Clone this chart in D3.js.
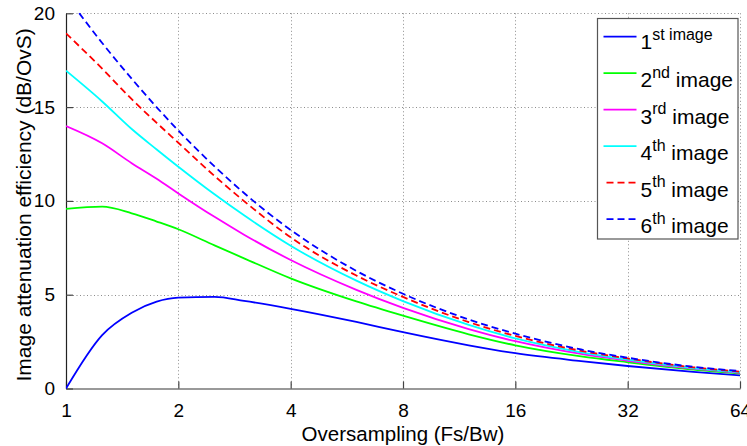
<!DOCTYPE html>
<html>
<head>
<meta charset="utf-8">
<script src="https://cdn.jsdelivr.net/npm/d3@7/dist/d3.min.js"></script>
<style>
  html, body { margin: 0; padding: 0; background: #fff; }
  svg { display: block; font-family: "Liberation Sans", Arial, Helvetica, sans-serif; }
</style>
</head>
<body>
<svg id="chart" width="747" height="446"></svg>
<script>
// Oversampling ratios (Fs/Bw) at which the efficiency was evaluated
const oversampling = [1, 1.25, 1.5, 1.75, 2, 2.5, 3, 4, 6, 8, 12, 16, 24, 32, 48, 64];

// Image attenuation efficiency (dB per oversampling octave) for each image
const image1 = [0, 2.85, 4.04, 4.63, 4.84, 4.88, 4.67, 4.25, 3.55, 3.0, 2.3, 1.88, 1.46, 1.2, 0.89, 0.7];
const image2 = [9.57, 9.69, 9.34, 8.9, 8.49, 7.63, 6.94, 5.87, 4.64, 3.88, 2.89, 2.3, 1.71, 1.4, 1.01, 0.8];
const image3 = [13.99, 13.07, 12.01, 11.18, 10.4, 9.15, 8.2, 6.85, 5.26, 4.3, 3.17, 2.52, 1.84, 1.48, 1.06, 0.84];
const image4 = [16.94, 15.3, 13.83, 12.74, 11.82, 10.35, 9.23, 7.61, 5.75, 4.66, 3.39, 2.67, 1.93, 1.54, 1.09, 0.87];
const image5 = [18.93, 17.05, 15.42, 14.16, 13.1, 11.33, 9.99, 8.06, 6.02, 4.88, 3.54, 2.8, 2.01, 1.6, 1.13, 0.9];
const image6 = [20.95, 18.42, 16.51, 14.99, 13.75, 11.84, 10.42, 8.45, 6.27, 5.05, 3.68, 2.92, 2.08, 1.64, 1.16, 0.93];

const xTicks = [1, 2, 4, 8, 16, 32, 64];
const yTicks = [0, 5, 10, 15, 20];

const seriesNames = [["1", "st image", ""], ["2", "nd", " image"], ["3", "rd", " image"],
                     ["4", "th", " image"], ["5", "th", " image"], ["6", "th", " image"]];
const seriesColors = ["#0000ff", "#00ff00", "#ff00ff", "#00ffff", "#ff0000", "#0000ff"];
const seriesDashed = [false, false, false, false, true, true];
const seriesValues = [image1, image2, image3, image4, image5, image6];

const svg = d3.select("#chart");
const plotLeft = 66, plotRight = 740, plotTop = 13.3, plotBottom = 388.5;

const x = d3.scaleLog().base(2).domain([1, 64]).range([plotLeft, plotRight]);
const y = d3.scaleLinear().domain([0, 20]).range([plotBottom, plotTop]);

// clip for the data lines
svg.append("defs").append("clipPath").attr("id", "plotClip")
  .append("rect").attr("x", plotLeft).attr("y", plotTop - 0.5)
  .attr("width", plotRight - plotLeft + 2).attr("height", plotBottom - plotTop + 1);

// dotted grid
const grid = svg.append("g").attr("stroke", "#8c8c8c").attr("stroke-width", 1)
  .attr("stroke-dasharray", "1,2.5").attr("fill", "none");
grid.selectAll("line.v").data(xTicks.slice(1)).join("line")
  .attr("x1", d => Math.round(x(d)) + 0.5).attr("x2", d => Math.round(x(d)) + 0.5)
  .attr("y1", plotTop).attr("y2", plotBottom);
grid.selectAll("line.h").data(yTicks.slice(1)).join("line")
  .attr("x1", plotLeft).attr("x2", plotRight)
  .attr("y1", d => Math.round(y(d)) + 0.5).attr("y2", d => Math.round(y(d)) + 0.5);

// x axis (bottom) with inward ticks
const xAxis = d3.axisBottom(x).tickValues(xTicks).tickFormat(d3.format("d"))
  .tickSizeInner(-7).tickSizeOuter(0).tickPadding(15);
const gx = svg.append("g").attr("transform", `translate(0,${plotBottom})`).call(xAxis);
gx.select(".domain").attr("stroke", "#777").attr("stroke-width", 1.6);
gx.selectAll(".tick line").attr("stroke", "#444").attr("stroke-width", 1.2);
gx.selectAll(".tick text").attr("font-size", 19).attr("fill", "#000")
  .attr("font-family", "Liberation Sans, Arial, sans-serif");

// y axis (left) with inward ticks
const yAxis = d3.axisLeft(y).tickValues(yTicks).tickFormat(d3.format("d"))
  .tickSizeInner(-7).tickSizeOuter(0).tickPadding(11);
const gy = svg.append("g").attr("transform", `translate(${plotLeft},0)`).call(yAxis);
gy.select(".domain").attr("stroke", "#222").attr("stroke-width", 1.2);
gy.selectAll(".tick line").attr("stroke", "#444").attr("stroke-width", 1.2);
gy.selectAll(".tick text").attr("font-size", 19).attr("fill", "#000")
  .attr("font-family", "Liberation Sans, Arial, sans-serif");

// axis titles
svg.append("text").attr("x", (plotLeft + plotRight) / 2).attr("y", 441)
  .attr("text-anchor", "middle").attr("font-size", 20.5).attr("fill", "#000")
  .text("Oversampling (Fs/Bw)");
svg.append("text").attr("transform", `translate(31,${(plotTop + plotBottom) / 2 + 4}) rotate(-90)`)
  .attr("text-anchor", "middle").attr("font-size", 21).attr("fill", "#000")
  .text("Image attenuation efficiency (dB/OvS)");

// data lines
const line = d3.line().x((d, i) => x(oversampling[i])).y(d => y(d)).curve(d3.curveMonotoneX);
const plot = svg.append("g").attr("clip-path", "url(#plotClip)");
seriesValues.forEach((vals, k) => {
  plot.append("path").datum(vals)
    .attr("d", line).attr("fill", "none")
    .attr("stroke", seriesColors[k]).attr("stroke-width", 1.8)
    .attr("stroke-dasharray", seriesDashed[k] ? "7,4" : null);
});

// legend
const lg = svg.append("g");
lg.append("rect").attr("x", 597.5).attr("y", 18.5).attr("width", 140.5).attr("height", 220.5)
  .attr("fill", "#fff").attr("stroke", "#555").attr("stroke-width", 1.2);
seriesNames.forEach((nm, k) => {
  const ly = 36.7 + 36.5 * k;
  lg.append("line")
    .attr("x1", seriesDashed[k] ? 606.5 : 603.5).attr("x2", 636.5)
    .attr("y1", ly).attr("y2", ly)
    .attr("stroke", seriesColors[k]).attr("stroke-width", 1.8)
    .attr("stroke-dasharray", seriesDashed[k] ? "7,4" : null);
  const t = lg.append("text").attr("x", 640.5).attr("y", ly + (k === 0 ? 12.5 : 14)).attr("fill", "#000");
  t.append("tspan").attr("font-size", 21).text(nm[0]);
  t.append("tspan").attr("font-size", 16).attr("dy", -9.5).text(nm[1]);
  if (nm[2]) t.append("tspan").attr("font-size", 21).attr("dy", 9.5).text(nm[2]);
});
</script>
</body>
</html>
